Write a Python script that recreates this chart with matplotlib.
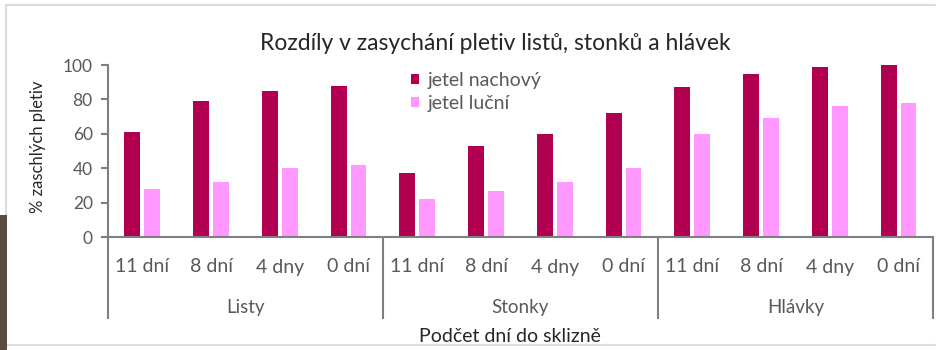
import matplotlib
matplotlib.use("Agg")
import matplotlib.pyplot as plt
from matplotlib.patches import Rectangle
import numpy as np

plt.rcParams['font.family'] = ['Lato', 'DejaVu Sans']

groups = ["Listy", "Stonky", "Hlávky"]
days = ["11 dní", "8 dní", "4 dny", "0 dní"]
series_names = ["jetel nachový", "jetel luční"]
nachovy = [61, 79, 85, 88, 37, 53, 60, 72, 87, 95, 99, 100]
lucni = [28, 32, 40, 42, 22, 27, 32, 40, 60, 69, 76, 78]
yticks = [0, 20, 40, 60, 80, 100]

dark = "#B0004F"
light = "#FF99FF"
axis_gray = "#7f7f7f"
text_gray = "#595959"

W, H = 937, 350
fig = plt.figure(figsize=(W / 100, H / 100), dpi=100)

# chart frame and the dark side strip
fig.patches.append(Rectangle((6 / W, 5 / H), 1 - 6 / W, 1 - 10 / H, transform=fig.transFigure,
                             fill=False, edgecolor="#dcdcdc", linewidth=1.5, zorder=0))
fig.patches.append(Rectangle((0, 0), 7 / W, 1 - 215 / H, transform=fig.transFigure,
                             facecolor="#5b4a40", edgecolor="none", zorder=1))

x0, x1 = 108, 933
y0, y1 = 237, 65
ax = fig.add_axes([x0 / W, 1 - y0 / H, (x1 - x0) / W, (y0 - y1) / H])

n = len(nachovy)
x = np.arange(n) + 0.5
bw = 0.23
off = 0.145
ax.bar(x - off, nachovy, bw, color=dark, label=series_names[0], zorder=2)
ax.bar(x + off, lucni, bw, color=light, label=series_names[1], zorder=2)

ax.set_xlim(0, n)
ax.set_ylim(0, 100)
ax.set_yticks(yticks)
ax.set_xticks([])
for s in ["top", "right"]:
    ax.spines[s].set_visible(False)
for s in ["left", "bottom"]:
    ax.spines[s].set_color(axis_gray)
    ax.spines[s].set_linewidth(1.5)
ax.tick_params(axis="y", direction="out", length=5, width=1.5, color=axis_gray,
               labelsize=12.5, labelcolor=text_gray, pad=6)
ax.spines["bottom"].set_bounds(-5 / (x1 - x0) * n, n)

# category axis structure: separators below the axis
drop = 81 / (y0 - y1)  # depth of the category area in axes units
ax.plot([0, 0], [0, -drop], transform=ax.transAxes, color=axis_gray, lw=1.5, clip_on=False)
for k in range(1, len(groups) + 1):
    xs = k * len(days) / n
    ax.plot([xs, xs], [0, -drop], transform=ax.transAxes, color=axis_gray, lw=1.5, clip_on=False)

trans = ax.get_xaxis_transform()
for i in range(n):
    ax.text(x[i], -30 / (y0 - y1), days[i % len(days)], transform=trans, ha="center", va="center",
            fontsize=14, color=text_gray)
for g, name in enumerate(groups):
    cx = g * len(days) + len(days) / 2
    ax.text(cx, -70 / (y0 - y1), name, transform=trans, ha="center", va="center",
            fontsize=13.5, color=text_gray)

fig.text(510 / W, 1 - 337 / H, "Podčet dní do sklizně", ha="center", va="center",
         fontsize=14, color="#262626")
fig.text(38 / W, 1 - 147 / H, "% zaschlých pletiv", ha="center", va="center",
         rotation=90, fontsize=12, color="#262626")
fig.text(495 / W, 1 - 43 / H, "Rozdíly v zasychání pletiv listů, stonků a hlávek",
         ha="center", va="center", fontsize=16.5, color="#262626")

ax.legend(loc="upper left", bbox_to_anchor=(401 / W, 1 - 62 / H), bbox_transform=fig.transFigure,
          frameon=False, fontsize=14, handlelength=0.42, handleheight=0.42, handletextpad=0.45,
          labelspacing=0.3, borderpad=0, labelcolor=text_gray)

fig.savefig("out.png", dpi=100, facecolor="white")
